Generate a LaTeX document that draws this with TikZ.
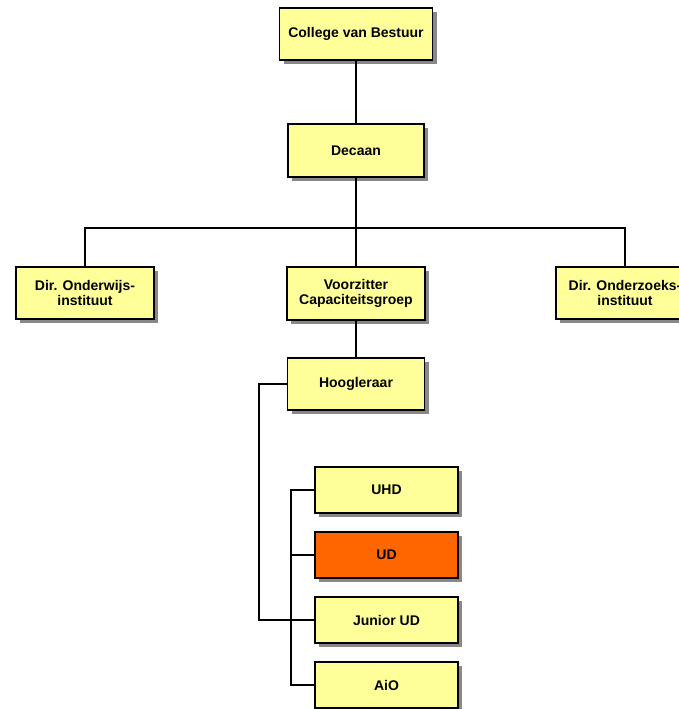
\documentclass[tikz,border=0pt]{standalone}
\usepackage{fontspec}
\setmainfont{Liberation Sans}
\usetikzlibrary{shadows}
\definecolor{boxyellow}{HTML}{FFFF99}
\definecolor{boxorange}{HTML}{FF6600}
\definecolor{shadowgray}{HTML}{888888}
\begin{document}
\begin{tikzpicture}[x=1pt,y=-1pt,
  orgbox/.style={draw=black, line width=1.4pt, fill=boxyellow, align=center,
    inner sep=0pt, font=\fontsize{14}{15.5}\selectfont\bfseries,
    drop shadow={shadow xshift=4pt, shadow yshift=-4pt, fill=shadowgray, opacity=1}},
  wide/.style={minimum width=137pt, minimum height=52pt},
  small/.style={minimum width=143pt, minimum height=46pt},
  conn/.style={draw=black, line width=1.3pt}]
\path[use as bounding box] (0,0) rectangle (679,709);
\fill[white] (0,0) rectangle (679,709);
\clip (0,0) rectangle (679,709);
% nodes
\node[orgbox, wide, minimum width=153pt] (cvb) at (356,34) {College van Bestuur};
\node[orgbox, wide, minimum width=136pt, minimum height=53pt] (dec) at (356,150.5) {Decaan};
\node[orgbox, wide, minimum width=138pt] (dow) at (85,293) {Dir. Onderwijs-\\instituut};
\node[orgbox, wide, minimum width=138pt, minimum height=53pt] (vcg) at (356,293.5) {Voorzitter\\Capaciteitsgroep};
\node[orgbox, wide, minimum width=138pt] (doz) at (625,293) {Dir. Onderzoeks-\\instituut};
\node[orgbox, wide] (hgl) at (356,384) {Hoogleraar};
\node[orgbox, small] (uhd) at (386.5,490) {UHD};
\node[orgbox, small, fill=boxorange] (ud) at (386.5,555) {UD};
\node[orgbox, small] (jud) at (386.5,620) {Junior UD};
\node[orgbox, small] (aio) at (386.5,685) {AiO};
% connectors
\coordinate (bus) at (356,228);
\draw[conn] (cvb.south) -- (dec.north);
\draw[conn] (dec.south) -- (bus);
\draw[conn] (dow.north) |- (bus) -| (doz.north);
\draw[conn] (bus) -- (vcg.north);
\draw[conn] (vcg.south) -- (hgl.north);
\coordinate (hb) at (259,384);
\draw[conn] (hgl.west) -- (hb) |- (jud.west);
\coordinate (ib) at (291,490);
\draw[conn] (uhd.west) -- (ib) |- (aio.west);
\draw[conn] (ud.west) -- (ud.west -| ib);
\end{tikzpicture}
\end{document}
